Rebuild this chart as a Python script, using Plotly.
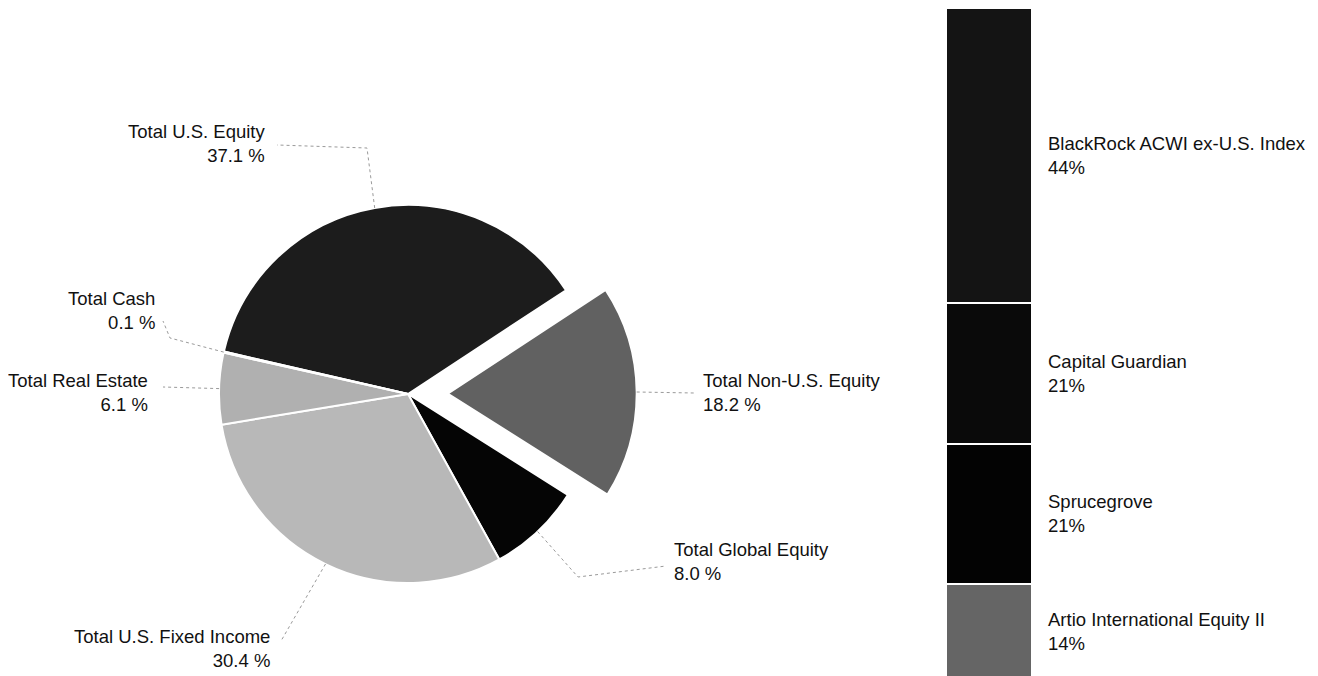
import math
import plotly.graph_objects as go

# page body has an 8px margin, so the figure is drawn 8px in from the corner
OFF = 8
W, H = 1318 - OFF, 676 - OFF

# ---- data ----
pie_labels = ["Total U.S. Equity", "Total Non-U.S. Equity", "Total Global Equity",
              "Total U.S. Fixed Income", "Total Real Estate", "Total Cash"]
pie_values = [37.1, 18.2, 8.0, 30.4, 6.1, 0.1]
pie_pull = [0, 0.21, 0, 0, 0, 0]

bar_names = ["Artio International Equity II", "Sprucegrove",
             "Capital Guardian", "BlackRock ACWI ex-U.S. Index"]
bar_values = [14, 21, 21, 44]

# ---- styles / layout constants (pixel positions are page pixels) ----
pie_colors = ["#1c1c1c", "#616161", "#050505", "#b8b8b8", "#b0b0b0", "#d0d0d0"]
bar_colors = ["#656565", "#030303", "#0a0a0a", "#141414"]

CX, CY, R = 408, 394, 189           # pie centre / radius
ROTATION = 283                      # start angle of first slice (clockwise from 12)
LABEL_FONT = dict(family="Liberation Sans, Arial", size=18.5, color="#111")
BAR_FONT = dict(family="Liberation Sans, Arial", size=18.5, color="#111")

# label text position, anchor, and leader-line elbow points
label_pos = {
    "Total U.S. Equity": (268, 143, "right", [(367, 148), (277, 145)]),
    "Total Non-U.S. Equity": (701, 392, "left", [(694, 393)]),
    "Total Global Equity": (672, 561, "left", [(578, 577), (666, 566)]),
    "Total U.S. Fixed Income": (272, 648, "right", [(281, 641)]),
    "Total Real Estate": (150, 392, "right", [(163, 387)]),
    "Total Cash": (157, 310, "right", [(170, 338), (163, 321)]),
}
BAR_LEFT, BAR_RIGHT, BAR_TOP, BAR_ZERO = 946, 1032, 8, 678
BAR_TEXT_X = 1046

fig = go.Figure()

# pie domain: plotly shrinks radius by (1 + max pull)
half = R * (1 + max(pie_pull))
fig.add_trace(go.Pie(
    labels=pie_labels,
    values=pie_values,
    pull=pie_pull,
    sort=False,
    direction="clockwise",
    rotation=ROTATION,
    textinfo="none",
    hoverinfo="label+value",
    marker=dict(colors=pie_colors, line=dict(color="white", width=2)),
    domain=dict(x=[(CX - half - OFF) / W, (CX + half - OFF) / W],
                y=[1 - (CY + half - OFF) / H, 1 - (CY - half - OFF) / H]),
    showlegend=False,
))

# stacked single bar on the right
for name, val, col in zip(bar_names, bar_values, bar_colors):
    fig.add_trace(go.Bar(
        x=[0], y=[val], name=name, width=1,
        marker=dict(color=col, line=dict(color="white", width=2)),
        xaxis="x2", yaxis="y2", showlegend=False,
    ))

total_bar = sum(bar_values)
ppu = (BAR_ZERO - BAR_TOP) / total_bar
fig.update_layout(
    xaxis2=dict(domain=[(BAR_LEFT - OFF) / W, (BAR_RIGHT - OFF) / W], range=[-0.5, 0.5],
                visible=False, fixedrange=True),
    yaxis2=dict(domain=[0, 1], anchor="x2", visible=False, fixedrange=True,
                range=[(BAR_ZERO - (H + OFF)) / ppu, (BAR_ZERO - OFF) / ppu]),
    # overlay axis in page pixels for leader lines and labels
    xaxis=dict(domain=[0, 1], range=[OFF, OFF + W], visible=False, fixedrange=True),
    yaxis=dict(domain=[0, 1], range=[OFF + H, OFF], visible=False, fixedrange=True),
)

# pie labels + dotted leader lines, anchored at slice mid-angles
total = sum(pie_values)
angle = ROTATION
shapes, annotations = [], []
for lab, val, pull in zip(pie_labels, pie_values, pie_pull):
    span = val / total * 360
    mid = math.radians(angle + span / 2)
    angle += span
    rr = R * (1 + pull)
    ex, ey = CX + rr * math.sin(mid), CY - rr * math.cos(mid)
    tx, ty, anchor, elbows = label_pos[lab]
    pts = [(ex, ey)] + elbows
    path = "M " + " L ".join(f"{px:.1f},{py:.1f}" for px, py in pts)
    shapes.append(dict(type="path", path=path, xref="x", yref="y",
                       line=dict(color="#9a9a9a", width=1, dash="dot")))
    annotations.append(dict(
        x=tx, y=ty, xref="x", yref="y", xanchor=anchor, yanchor="middle",
        text=f"{lab}<br>{val:.1f} %", showarrow=False, align=anchor,
        font=LABEL_FONT,
    ))

# bar labels at segment centres
cum = 0
for name, val in zip(bar_names, bar_values):
    annotations.append(dict(
        x=BAR_TEXT_X, y=cum + val / 2, xref="x", yref="y2",
        xanchor="left", yanchor="middle", align="left",
        text=f"{name}<br>{val}%", showarrow=False, font=BAR_FONT,
    ))
    cum += val

fig.update_layout(
    width=W, height=H,
    margin=dict(l=0, r=0, t=0, b=0),
    paper_bgcolor="white", plot_bgcolor="rgba(0,0,0,0)",
    barmode="stack",
    shapes=shapes,
    annotations=annotations,
)

fig.write_html("out.html")
